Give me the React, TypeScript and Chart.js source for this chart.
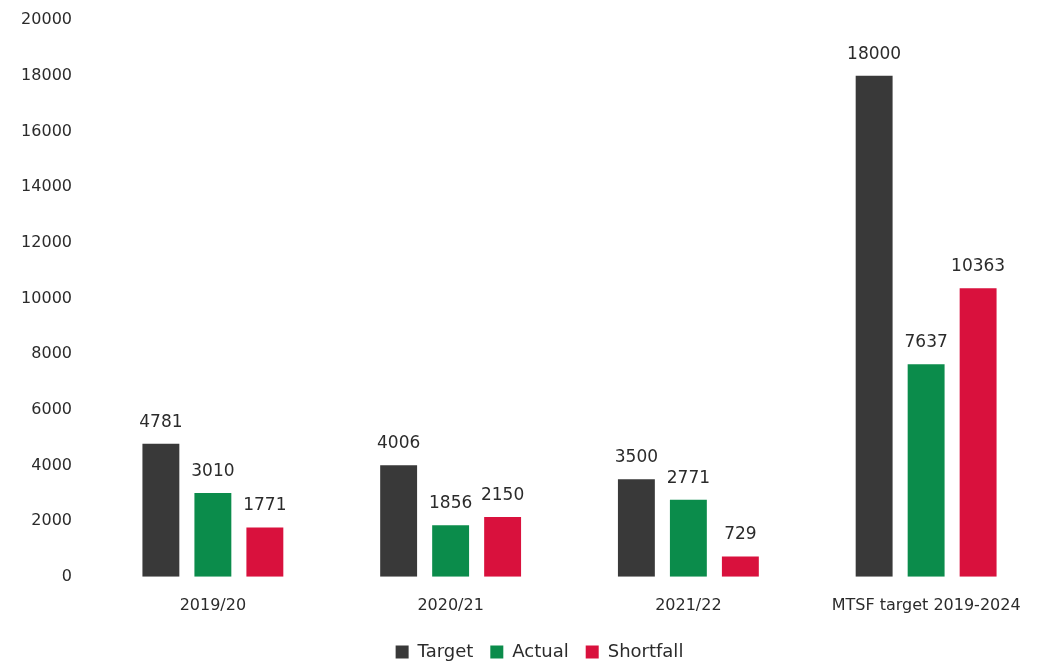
import React, { useEffect, useRef } from "react";
import { Chart, registerables } from "chart.js";

Chart.register(...registerables);

const categories = ["2019/20", "2020/21", "2021/22", "MTSF target 2019-2024"];
const targetValues = [4781, 4006, 3500, 18000];
const actualValues = [3010, 1856, 2771, 7637];
const shortfallValues = [1771, 2150, 729, 10363];
const yTicks = [0, 2000, 4000, 6000, 8000, 10000, 12000, 14000, 16000, 18000, 20000];

const FONT = "'DejaVu Sans', sans-serif";
const TEXT = "#2b2b2b";

const valueLabels = {
  id: "valueLabels",
  afterDatasetsDraw(chart: any) {
    const ctx = chart.ctx;
    ctx.save();
    ctx.font = `17px ${FONT}`;
    ctx.fillStyle = TEXT;
    ctx.textAlign = "center";
    ctx.textBaseline = "bottom";
    chart.data.datasets.forEach((ds: any, di: number) => {
      const meta = chart.getDatasetMeta(di);
      meta.data.forEach((el: any, i: number) => {
        ctx.fillText(String(ds.data[i]), el.x, el.y - 13);
      });
    });
    ctx.restore();
  },
};

// centre the legend on the visible page rather than the padded canvas
const legendShift = {
  id: "legendShift",
  afterLayout(chart: any) {
    const lg = chart.legend;
    if (lg) {
      lg.left += 17;
      lg.right += 17;
    }
  },
};

export default function App() {
  const ref = useRef<HTMLCanvasElement>(null);
  useEffect(() => {
    document.body.style.margin = "0";
    const chart = new Chart(ref.current!, {
      type: "bar",
      data: {
        labels: categories,
        datasets: [
          { label: "Target", data: targetValues, backgroundColor: "#393939" },
          { label: "Actual", data: actualValues, backgroundColor: "#0b8c4b" },
          { label: "Shortfall", data: shortfallValues, backgroundColor: "#d9113d" },
        ],
      },
      options: {
        animation: false,
        responsive: false,
        maintainAspectRatio: false,
        layout: { padding: { top: 20, right: 33, left: 0, bottom: -7 } },
        datasets: { bar: { barPercentage: 0.71, categoryPercentage: 0.656 } },
        scales: {
          x: {
            grid: { display: false },
            border: { display: false },
            ticks: { color: TEXT, font: { family: FONT, size: 16 }, padding: 11 },
          },
          y: {
            min: 0,
            max: 20000,
            afterBuildTicks: (s: any) => {
              s.ticks = yTicks.map((v) => ({ value: v }));
            },
            afterFit: (s: any) => {
              s.width = 94;
              s.paddingTop = 0;
              s.paddingBottom = 0;
            },
            grid: { display: false },
            border: { display: false },
            ticks: {
              color: TEXT,
              font: { family: FONT, size: 16 },
              padding: 14,
              callback: (v: any) => String(v),
            },
          },
        },
        plugins: {
          legend: {
            position: "bottom",
            labels: {
              color: TEXT,
              font: { family: FONT, size: 18 },
              boxWidth: 13,
              boxHeight: 13,
              padding: 17,
            },
          },
          tooltip: { enabled: false },
        },
      },
      plugins: [valueLabels, legendShift],
    });
    return () => chart.destroy();
  }, []);
  return (
    <div style={{ position: "absolute", left: 0, top: 0, width: 1039, height: 664, overflow: "hidden", background: "#fff" }}>
      <canvas ref={ref} width={1078} height={664} style={{ width: 1078, height: 664, display: "block" }} />
    </div>
  );
}
